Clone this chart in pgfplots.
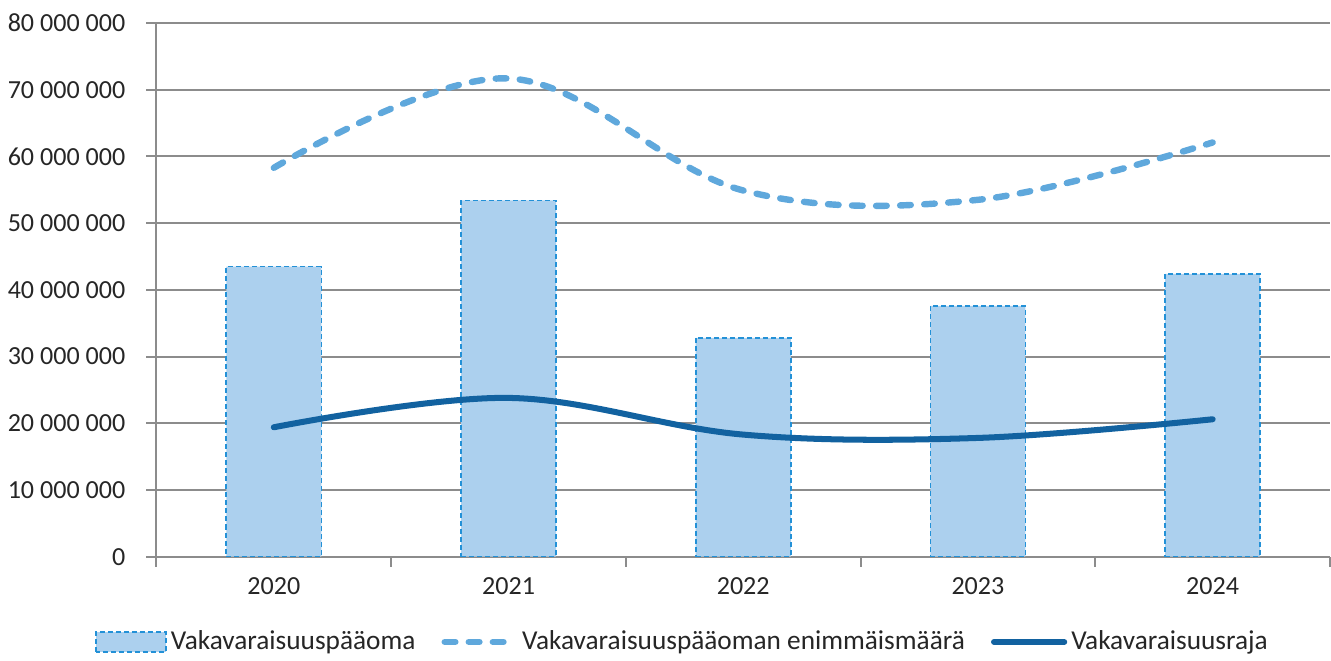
\documentclass[border=0pt]{standalone}
\usepackage{fontspec}
\setmainfont{Carlito}
\usepackage{pgfplots}
\pgfplotsset{compat=1.18}

\definecolor{barfill}{RGB}{172,208,238}
\definecolor{baredge}{RGB}{35,145,215}
\definecolor{maxline}{RGB}{95,168,220}
\definecolor{limline}{RGB}{18,98,160}
\definecolor{gridgray}{RGB}{140,140,140}

\pgfplotsset{
    barlegend/.style={legend image code/.code={\draw[##1] (0pt,-5pt) rectangle (35pt,5pt);}},
    linelegend/.style={legend image code/.code={\draw[##1] (0pt,0pt) -- (35pt,0pt);}},
}

\begin{document}
\begin{tikzpicture}
\begin{axis}[
    scale only axis,
    width=585pt, height=266pt,
    xmin=-0.5, xmax=4.5,
    ymin=0, ymax=80000000,
    axis x line*=bottom, axis y line*=left,
    axis line style={gridgray, line width=1pt},
    xtick={0,1,2,3,4},
    xticklabels={2020,2021,2022,2023,2024},
    major x tick style={draw=none},
    minor xtick={-0.5,0.5,1.5,2.5,3.5,4.5},
    minor x tick style={gridgray, line width=1pt},
    minor tick length=5pt,
    tick align=outside,
    ytick={0,10000000,20000000,30000000,40000000,50000000,60000000,70000000,80000000},
    yticklabels={0,10 000 000,20 000 000,30 000 000,40 000 000,50 000 000,60 000 000,70 000 000,80 000 000},
    major y tick style={gridgray, line width=1pt},
    major tick length=5pt,
    scaled y ticks=false,
    ymajorgrids=true,
    grid style={gridgray, line width=1pt},
    tick label style={font=\fontsize{13}{15}\selectfont, text=black!85},
    yticklabel style={xshift=-7pt},
    xticklabel style={yshift=-2pt},
    legend columns=3,
    legend style={draw=none, at={(0.449,0)}, anchor=center, yshift=-42.5pt,
        font=\fontsize{13.6}{15}\selectfont, text=black!85,
        /tikz/every even column/.append style={column sep=11pt},
        inner sep=0pt},
    legend cell align=left,
]
\addplot[ybar, bar width=0.405, fill=barfill, draw=baredge, line width=0.8pt,
    dash pattern=on 2.5pt off 1.5pt, barlegend]
    coordinates {(0,43500000) (1,53400000) (2,32800000) (3,37600000) (4,42400000)};
\addlegendentry{Vakavaraisuuspääoma}

\addplot[smooth, tension=0.6, color=maxline, line width=3.2pt, line cap=round,
    dash pattern=on 5.3pt off 6.7pt, linelegend]
    coordinates {(0,58300000) (1,71700000) (2,54900000) (3,53500000) (4,62100000)};
\addlegendentry{Vakavaraisuuspääoman enimmäismäärä}

\addplot[smooth, tension=0.6, color=limline, line width=3pt, line cap=round, linelegend]
    coordinates {(0,19400000) (1,23800000) (2,18300000) (3,17800000) (4,20600000)};
\addlegendentry{Vakavaraisuusraja}
\end{axis}
\path (current axis.north) ++(0,11.5pt) coordinate (padtop);
\path (current axis.south) ++(0,-52pt) coordinate (padbottom);
\path (current axis.west) ++(-78pt,0) coordinate (padleft);
\end{tikzpicture}
\end{document}
